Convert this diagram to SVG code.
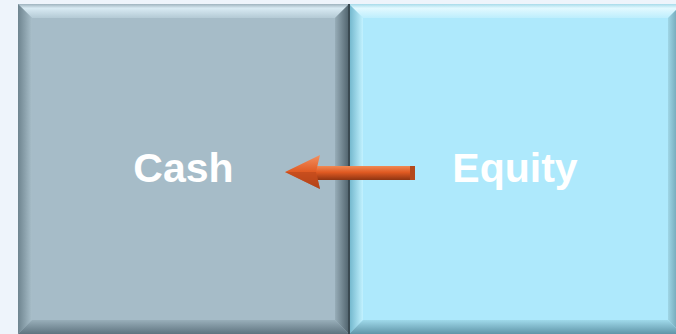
<svg xmlns="http://www.w3.org/2000/svg" width="676" height="334" viewBox="0 0 676 334">
<defs>
<linearGradient id="lt" x1="0" y1="0" x2="0" y2="1"><stop offset="0" stop-color="#9fb3be"/><stop offset="0.3" stop-color="#d8eaf3"/><stop offset="1" stop-color="#b4cad5"/></linearGradient>
<linearGradient id="ll" x1="0" y1="0" x2="1" y2="0"><stop offset="0" stop-color="#6e848f"/><stop offset="1" stop-color="#a9bfca"/></linearGradient>
<linearGradient id="lb" x1="0" y1="0" x2="0" y2="1"><stop offset="0" stop-color="#98aeb9"/><stop offset="1" stop-color="#5f7480"/></linearGradient>
<linearGradient id="lr" x1="0" y1="0" x2="1" y2="0"><stop offset="0" stop-color="#97adb8"/><stop offset="1" stop-color="#4f626c"/></linearGradient>
<linearGradient id="rt" x1="0" y1="0" x2="0" y2="1"><stop offset="0" stop-color="#a8dbea"/><stop offset="0.3" stop-color="#e2f9ff"/><stop offset="1" stop-color="#bdeefd"/></linearGradient>
<linearGradient id="rl" x1="0" y1="0" x2="1" y2="0"><stop offset="0" stop-color="#6fb5cb"/><stop offset="1" stop-color="#c2f2ff"/></linearGradient>
<linearGradient id="rb" x1="0" y1="0" x2="0" y2="1"><stop offset="0" stop-color="#9fd9ea"/><stop offset="1" stop-color="#5f95a8"/></linearGradient>
<linearGradient id="rr" x1="0" y1="0" x2="1" y2="0"><stop offset="0" stop-color="#9fd6e6"/><stop offset="1" stop-color="#5d8fa0"/></linearGradient>
<linearGradient id="sh" x1="0" y1="0" x2="0" y2="1"><stop offset="0" stop-color="#f08a55"/><stop offset="0.45" stop-color="#e05a22"/><stop offset="1" stop-color="#8e3412"/></linearGradient>
<linearGradient id="hd" x1="0" y1="0" x2="0" y2="1"><stop offset="0" stop-color="#f39060"/><stop offset="0.5" stop-color="#e05a22"/><stop offset="1" stop-color="#a83e14"/></linearGradient>
</defs>
<style>
.lbl{font-family:"Liberation Sans",Arial,sans-serif;font-weight:bold;font-size:41px;fill:#ffffff;text-anchor:middle}
</style>
<rect width="676" height="334" fill="#eef4fb"/>
<g id="cash">
<rect x="18" y="4" width="331" height="330" fill="#a6bcc8"/>
<polygon points="18,4 349,4 335,18 32,18" fill="url(#lt)"/>
<polygon points="18,4 32,18 32,320 18,334" fill="url(#ll)"/>
<polygon points="18,334 32,320 335,320 349,334" fill="url(#lb)"/>
<polygon points="349,4 349,334 335,320 335,18" fill="url(#lr)"/>
<text class="lbl" x="183.5" y="182">Cash</text>
</g>
<g id="equity">
<rect x="349" y="4" width="333" height="330" fill="#aee9fc"/>
<polygon points="349,4 682,4 668,18 363,18" fill="url(#rt)"/>
<polygon points="349,4 363,18 363,320 349,334" fill="url(#rl)"/>
<polygon points="349,334 363,320 668,320 682,334" fill="url(#rb)"/>
<polygon points="682,4 682,334 668,320 668,18" fill="url(#rr)"/>
<line x1="349" y1="4" x2="349" y2="334" stroke="#3a4a52" stroke-width="2"/>
<text class="lbl" x="515" y="182">Equity</text>
</g>
<g id="connectors">
<polygon points="316,166 415,166 415,180 316,180" fill="url(#sh)"/>
<polygon points="410,166 415,166 415,180 410,180" fill="#b44a1c"/>
<polygon points="285,172 320,155 316,172 320,189" fill="url(#hd)"/>
<polygon points="285,172 316,172 320,189" fill="#b9461a" opacity="0.6"/>
</g>
</svg>
